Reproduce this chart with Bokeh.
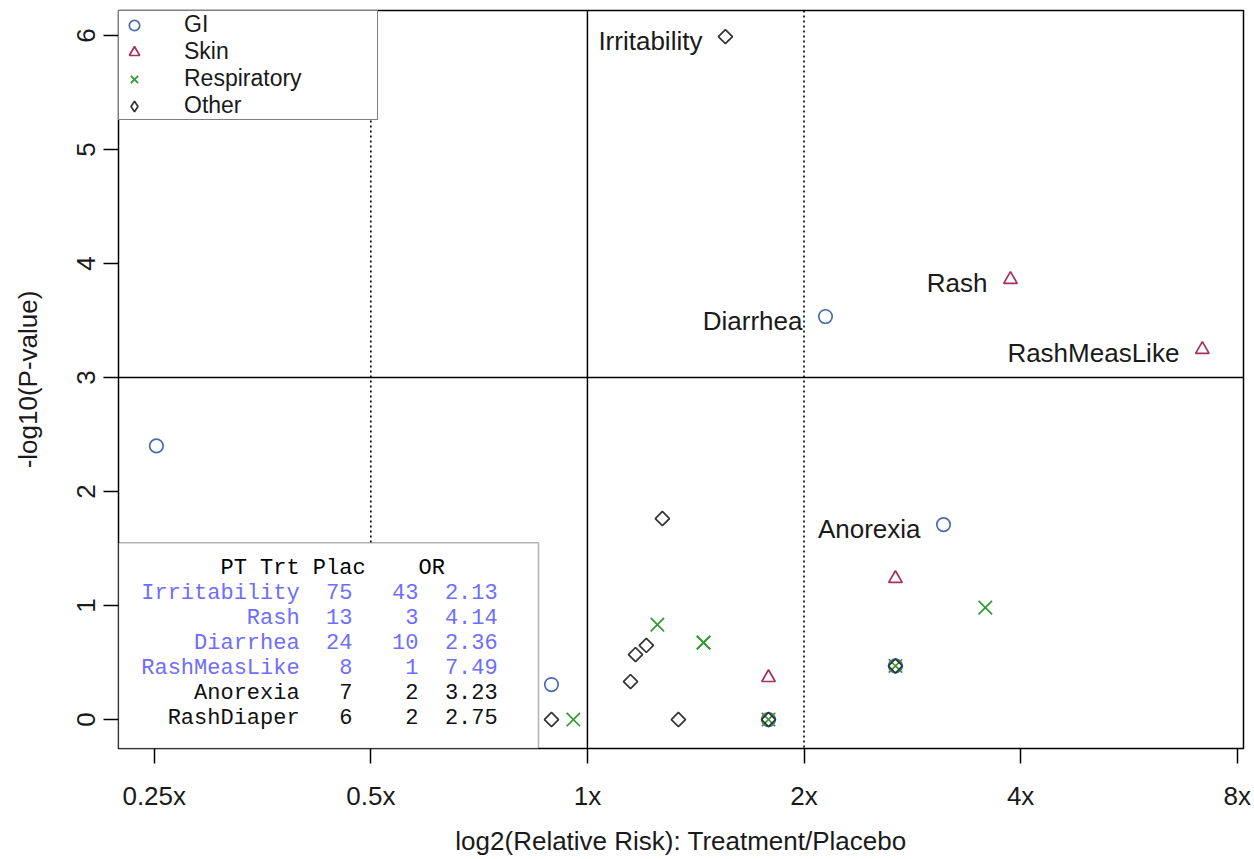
from bokeh.plotting import figure
from bokeh.models import (Span, BoxAnnotation, Legend, LegendItem, FixedTicker,
                          Range1d, ColumnDataSource)
from bokeh.core.properties import value
from bokeh.embed import file_html
from bokeh.resources import INLINE

# ---------------- data ----------------
# x = log2(relative risk), y = -log10(p-value)
gi_x = [-1.99, -0.166, 1.099, 1.644, 0.836, 1.422]
gi_y = [2.40, 0.307, 3.535, 1.71, 0.0, 0.47]

skin_x = [1.953, 2.839, 1.422, 0.836]
skin_y = [3.86, 3.246, 1.237, 0.368]

resp_x = [-0.065, 0.323, 0.536, 0.536, 0.836, 1.422, 1.837]
resp_y = [0.0, 0.833, 0.675, 0.675, 0.0, 0.47, 0.982]

other_x = [0.637, 0.346, -0.166, 0.199, 0.222, 0.272, 0.42, 0.836, 1.422]
other_y = [5.99, 1.763, 0.0, 0.333, 0.57, 0.65, 0.0, 0.0, 0.47]

label_names = ["Irritability", "Diarrhea", "Rash", "RashMeasLike", "Anorexia"]
label_x = [0.637, 1.099, 1.953, 2.839, 1.644]
label_y = [5.99, 3.535, 3.86, 3.246, 1.71]

tbl_pt = ["Irritability", "Rash", "Diarrhea", "RashMeasLike", "Anorexia", "RashDiaper"]
tbl_trt = [75, 13, 24, 8, 7, 6]
tbl_plac = [43, 3, 10, 1, 2, 2]
tbl_or = ["2.13", "4.14", "2.36", "7.49", "3.23", "2.75"]
tbl_sig = [True, True, True, True, False, False]

x_ticks = [-2, -1, 0, 1, 2, 3]
x_tick_labels = ["0.25x", "0.5x", "1x", "2x", "4x", "8x"]
y_ticks = [0, 1, 2, 3, 4, 5, 6]

# ---------------- figure ----------------
FONT = "Liberation Sans"
TXT = "#1a1a1a"
p = figure(width=1254, height=859,
           x_range=Range1d(-2.165, 3.029), y_range=Range1d(-0.254, 6.219),
           output_backend="svg", toolbar_location=None,
           min_border_left=118, min_border_right=11,
           min_border_top=10, min_border_bottom=111)
p.grid.visible = False
p.background_fill_color = "white"
p.border_fill_color = "white"
p.outline_line_color = "black"
p.outline_line_width = 1.5
p.outline_line_alpha = 1

for ax in (p.xaxis[0], p.yaxis[0]):
    ax.axis_line_color = None
    ax.major_tick_line_color = "black"
    ax.major_tick_line_width = 1.5
    ax.major_tick_in = 0
    ax.major_tick_out = 15
    ax.minor_tick_line_color = None
    ax.major_label_text_font = FONT
    ax.major_label_text_font_size = "26px"
    ax.major_label_text_color = TXT
    ax.axis_label_text_font = FONT
    ax.axis_label_text_font_size = "26px"
    ax.axis_label_text_font_style = "normal"
    ax.axis_label_text_color = TXT

p.xaxis.ticker = FixedTicker(ticks=x_ticks)
p.xaxis.major_label_overrides = {t: l for t, l in zip(x_ticks, x_tick_labels)}
p.xaxis.axis_label = "log2(Relative Risk): Treatment/Placebo"
p.xaxis.major_label_standoff = 17
p.xaxis.axis_label_standoff = 12

p.yaxis.ticker = FixedTicker(ticks=y_ticks)
p.yaxis.major_label_orientation = "vertical"
p.yaxis.axis_label = "-log10(P-value)"
p.yaxis.major_label_standoff = 8
p.yaxis.axis_label_standoff = 32

# reference lines
p.add_layout(Span(location=0, dimension="height", line_color="black", line_width=1.5, level="underlay"))
p.add_layout(Span(location=3, dimension="width", line_color="black", line_width=1.5, level="underlay"))
for loc in (-1, 1):
    p.add_layout(Span(location=loc, dimension="height", line_color="black",
                      line_width=1.6, line_dash="2 3", level="underlay"))

# table box
p.add_layout(BoxAnnotation(left=-2.165, right=-0.226, bottom=-0.254, top=1.55,
                           fill_color="white", fill_alpha=1.0,
                           line_color="black", line_width=1.5, level="underlay"))

# markers
C_GI, C_SKIN, C_RESP, C_OTH = "#4a6db0", "#a3305e", "#2f9a2f", "#333333"
r_gi = p.scatter(gi_x, gi_y, marker="circle", size=13.5, fill_color=None,
                 line_color=C_GI, line_width=1.7)
r_skin = p.scatter(skin_x, skin_y, marker="triangle", size=13.5, fill_color=None,
                   line_color=C_SKIN, line_width=1.7)
r_resp = p.scatter(resp_x, resp_y, marker="x", size=19,
                   line_color=C_RESP, line_width=1.7)
r_oth = p.scatter(other_x, other_y, marker="square", angle=0.7854, size=10,
                  fill_color=None, line_color=C_OTH, line_width=1.7)
# legend key for "Other" (diamond shape, not drawn in the plot area)
r_oth_key = p.scatter(other_x, other_y, marker="diamond", size=14,
                      fill_color=None, line_color=C_OTH, line_width=1.7,
                      visible=False)

# point labels
lab_src = ColumnDataSource(dict(x=label_x, y=label_y, t=label_names))
p.text(x="x", y="y", text="t", source=lab_src, x_offset=-23, y_offset=4,
       text_align="right", text_baseline="middle", text_font=value(FONT),
       text_font_size="26px", text_color=TXT)

# summary table (monospace)
NB = "\u00a0"
hdr = f"{'PT':>8}{'Trt':>4}{'Plac':>5}{'OR':>6}"
rows = [f"{n:>12}{a:>4}{b:>5}{o:>6}" for n, a, b, o in zip(tbl_pt, tbl_trt, tbl_plac, tbl_or)]
tbl_lines = [s.replace(" ", NB) for s in [hdr] + rows]
tbl_colors = ["black"] + ["#6e6eff" if s else "#111111" for s in tbl_sig]
tbl_y0, tbl_dy = 1.322, 0.2184
tbl_src = ColumnDataSource(dict(
    x=[-2.06] * len(tbl_lines),
    y=[tbl_y0 - i * tbl_dy for i in range(len(tbl_lines))],
    t=tbl_lines, c=tbl_colors))
p.text(x="x", y="y", text="t", source=tbl_src, text_color="c",
       text_align="left", text_baseline="middle",
       text_font=value("Liberation Mono"), text_font_size="22px")

# legend
legend = Legend(items=[LegendItem(label="GI", renderers=[r_gi]),
                       LegendItem(label="Skin", renderers=[r_skin]),
                       LegendItem(label="Respiratory", renderers=[r_resp]),
                       LegendItem(label="Other", renderers=[r_oth_key])],
                location="top_left")
legend.margin = 0
legend.padding = 0
legend.spacing = 0
legend.glyph_width = 30
legend.glyph_height = 26
legend.label_height = 26
legend.label_standoff = 35
legend.label_width = 193
legend.border_line_color = "black"
legend.border_line_width = 1.5
legend.background_fill_color = "white"
legend.background_fill_alpha = 1.0
legend.label_text_font = FONT
legend.label_text_font_size = "23px"
legend.label_text_color = TXT
p.add_layout(legend)

open("out.html", "w").write(file_html(p, INLINE))
